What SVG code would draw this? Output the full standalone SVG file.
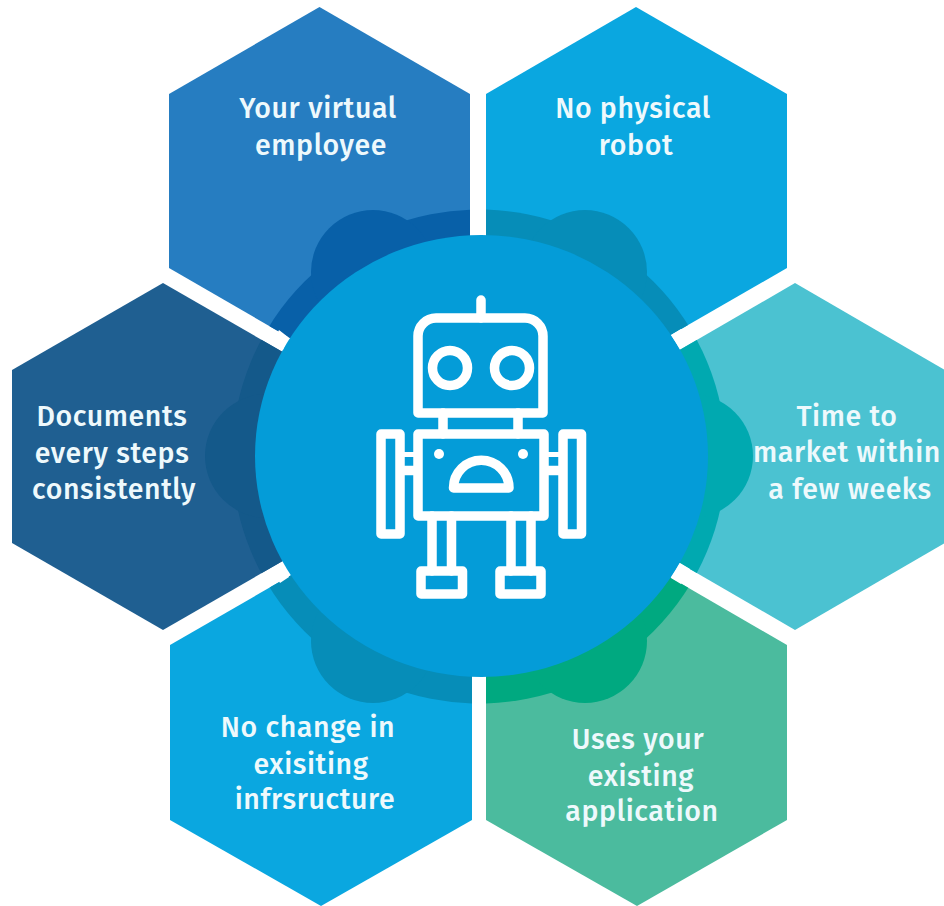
<svg xmlns="http://www.w3.org/2000/svg" width="944" height="906" viewBox="0 0 944 906">
<style>
text{font-family:"Fira Sans","Open Sans","Noto Sans",sans-serif;font-size:28.500px;font-weight:500;letter-spacing:.6px;fill:#eef9fc;text-anchor:middle}
.i{fill:none;stroke:#fff;stroke-width:9.500;stroke-linejoin:round;stroke-linecap:round}
</style>
<defs>
<g id="halo"><circle cx="479" cy="456.500" r="247"/><circle cx="373" cy="272" r="62"/><circle cx="585" cy="272" r="62"/><circle cx="267" cy="456" r="62"/><circle cx="691" cy="456" r="62"/><circle cx="373" cy="641" r="62"/><circle cx="585" cy="641" r="62"/></g>
<clipPath id="c1"><polygon points="319.500,7 470,94 470,268 319.500,355 169,268 169,94"/></clipPath>
<clipPath id="c2"><polygon points="636,7 787,94 787,268 636,355 486,268 486,94"/></clipPath>
<clipPath id="c3"><polygon points="163,283 314,370 314,543 163,630 12,543 12,370"/></clipPath>
<clipPath id="c4"><polygon points="795,283 945,370 945,543 795,630 645,543 645,370"/></clipPath>
<clipPath id="c5"><polygon points="321,558 472,645 472,820 321,906 170,820 170,645"/></clipPath>
<clipPath id="c6"><polygon points="637,558 787,645 787,820 637,906 486,820 486,645"/></clipPath>
</defs>
<rect width="944" height="906" fill="#fff"/>
<g id="node-virtual-employee"><polygon points="319.500,7 470,94 470,268 319.500,355 169,268 169,94" fill="#267dc1"/><use href="#halo" clip-path="url(#c1)" fill="#0860a8"/><text x="318" y="118">Your virtual</text><text x="321" y="155">employee</text></g>
<g id="node-no-robot"><polygon points="636,7 787,94 787,268 636,355 486,268 486,94" fill="#0aa7e0"/><use href="#halo" clip-path="url(#c2)" fill="#068db8"/><text x="633" y="118">No physical</text><text x="636" y="155">robot</text></g>
<g id="node-documents"><polygon points="163,283 314,370 314,543 163,630 12,543 12,370" fill="#1f5f91"/><use href="#halo" clip-path="url(#c3)" fill="#14598a"/><text x="112" y="426">Documents</text><text x="112" y="463">every steps</text><text x="114" y="499">consistently</text></g>
<g id="node-time"><polygon points="795,283 945,370 945,543 795,630 645,543 645,370" fill="#4bc2d1"/><use href="#halo" clip-path="url(#c4)" fill="#00a9b0"/><text x="847" y="426">Time to</text><text x="847" y="462">market within</text><text x="850" y="499">a few weeks</text></g>
<g id="node-no-change"><polygon points="321,558 472,645 472,820 321,906 170,820 170,645" fill="#0aa7e0"/><use href="#halo" clip-path="url(#c5)" fill="#068db8"/><text x="308" y="737">No change in</text><text x="311" y="774">exisiting</text><text x="315" y="809">infrsructure</text></g>
<g id="node-uses"><polygon points="637,558 787,645 787,820 637,906 486,820 486,645" fill="#4bbb9e"/><use href="#halo" clip-path="url(#c6)" fill="#00a980"/><text x="638" y="749">Uses your</text><text x="641" y="786">existing</text><text x="642" y="821">application</text></g>
<g id="node-hub">
<ellipse cx="481.500" cy="456" rx="226.500" ry="221" fill="#049cd8"/>
<g fill="#fff"><rect x="470" y="224" width="16" height="11"/><polygon points="671,335 680,349 690,343 681,329"/><polygon points="288,337 283,350 272,344 279,330"/><polygon points="680,563 671,578 681,584 690,569"/><polygon points="282,563 289,577 280,583 272,569"/><rect x="472" y="677" width="14" height="10"/></g>
<g id="robot" class="i">
<path d="M481 300V318"/>
<path d="M418 413V336a18 18 0 0 1 18-18H525a18 18 0 0 1 18 18V413Z"/>
<circle cx="450" cy="368" r="17.500"/><circle cx="512" cy="368" r="17.500"/>
<path d="M443 413V434M518 413V434"/>
<rect x="418" y="434" width="126" height="82"/>
<rect x="381" y="434" width="19" height="100"/><rect x="563" y="434" width="18.500" height="100"/>
<path d="M400 454.500H418M544 454.500H563" stroke-width="5" stroke-linecap="butt"/>
<path d="M400 470.500H418M544 470.500H563" stroke-linecap="butt"/>
<path d="M453.500 488a27.500 27.500 0 0 1 55.500 0Z"/>
<path d="M432 516V571M451.500 516V571M511 516V571M531 516V571"/>
<rect x="421" y="571" width="41.500" height="23"/><rect x="500" y="571" width="41" height="23"/>
</g>
<circle cx="439" cy="454" r="5" fill="#fff"/><circle cx="523" cy="454" r="5" fill="#fff"/>
</g>
</svg>
